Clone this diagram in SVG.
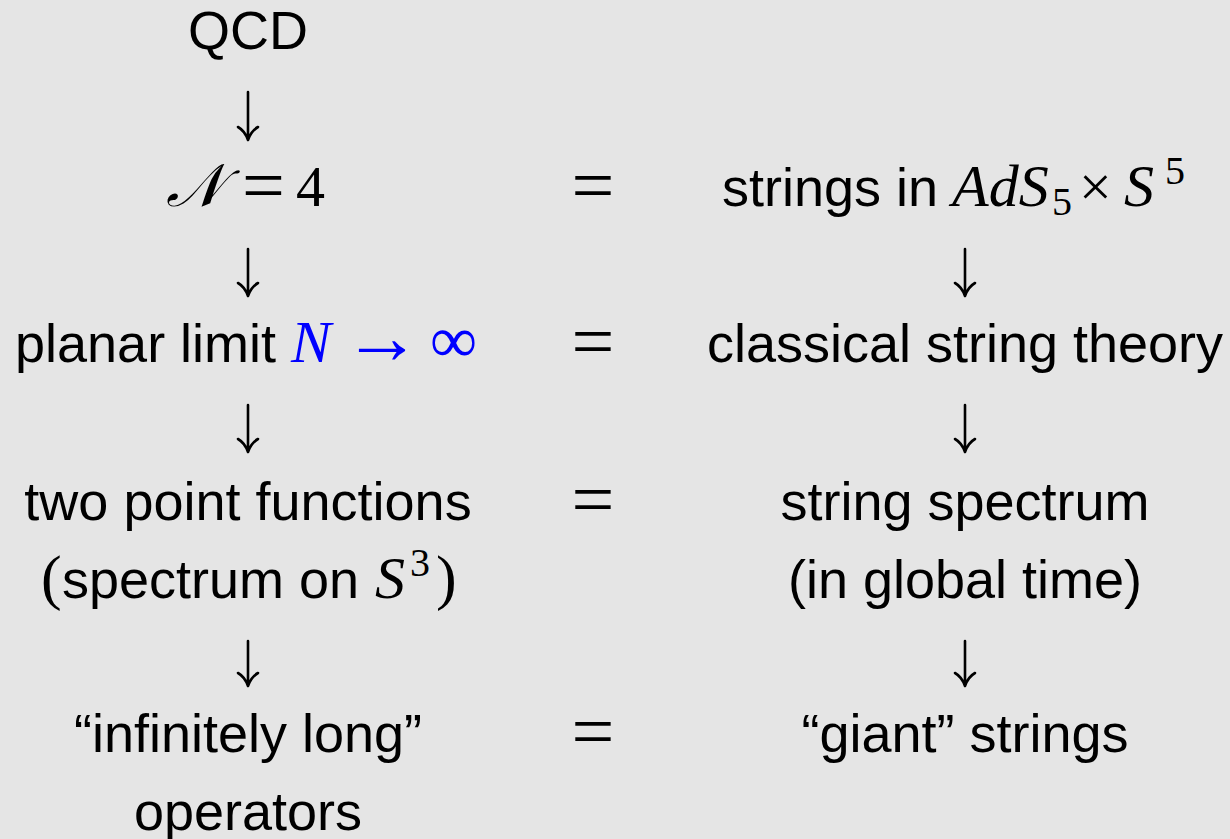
<svg xmlns="http://www.w3.org/2000/svg" width="1230" height="839" viewBox="0 0 1230 839">
<style>
.t{font-family:"Liberation Sans",Arial,sans-serif;font-size:54px;fill:#000}
.m{font-family:"Liberation Serif","Times New Roman",serif;font-style:italic;font-size:60px}
.r{font-family:"Liberation Serif","Times New Roman",serif;font-style:normal}
.up{font-family:"Liberation Serif","Times New Roman",serif;font-style:normal}
.eq{font-family:"Liberation Serif","Times New Roman",serif;font-size:76px;fill:#000}
.arr{fill:none;stroke:#000;stroke-width:2.6;stroke-linecap:round;stroke-linejoin:round}
</style>
<rect width="1230" height="839" fill="#e5e5e5"/>
<g id="connectors">
  <path class="arr" d="M248,92 V139 M238,127 Q245,131 248,140 Q251,131 258,127"/>
  <path class="arr" d="M248,249 V295 M238,283 Q245,287 248,296 Q251,287 258,283"/>
  <path class="arr" d="M248,405 V451 M238,439 Q245,443 248,452 Q251,443 258,439"/>
  <path class="arr" d="M248,641 V685 M238,673 Q245,677 248,686 Q251,677 258,673"/>
  <path class="arr" d="M965,249 V295 M955,283 Q962,287 965,296 Q968,287 975,283"/>
  <path class="arr" d="M965,405 V451 M955,439 Q962,443 965,452 Q968,443 975,439"/>
  <path class="arr" d="M965,641 V685 M955,673 Q962,677 965,686 Q968,677 975,673"/>
</g>
<g id="n-qcd"><text class="t" x="248" y="49" text-anchor="middle">QCD</text></g>
<g id="n-n4"><text class="t" y="206"><tspan class="m" x="166" font-size="58">𝒩</tspan><tspan class="eq" x="242" dy="5">=</tspan><tspan class="up" x="296" dy="-5" font-size="58">4</tspan></text></g>
<g id="n-ads"><text class="t" y="206"><tspan x="722">strings in </tspan><tspan class="m" x="952">AdS</tspan><tspan class="up" x="1052" dy="9" font-size="40">5</tspan><tspan class="r" x="1079" dy="-9" font-size="58">×</tspan><tspan class="m" x="1124">S</tspan><tspan class="up" x="1165" dy="-22" font-size="40">5</tspan></text></g>
<g id="n-planar"><text class="t" y="362"><tspan x="15">planar limit </tspan><tspan class="m" x="291" fill="#0000ff">N</tspan><tspan class="r" x="343" dy="1" fill="#0000ff" font-size="78">→</tspan><tspan class="r" x="430" dy="-1" fill="#0000ff" font-size="66">∞</tspan></text></g>
<g id="n-classical"><text class="t" x="965" y="362" text-anchor="middle">classical string theory</text></g>
<g id="n-twopoint"><text class="t" x="248" y="520" text-anchor="middle">two point functions</text>
<text class="t" y="598"><tspan class="up" x="41" font-size="62">(</tspan><tspan x="62">spectrum on </tspan><tspan class="m" x="375">S</tspan><tspan class="up" x="410" dy="-22" font-size="40">3</tspan><tspan class="up" x="436" dy="22" font-size="62">)</tspan></text></g>
<g id="n-spectrum"><text class="t" x="965" y="520" text-anchor="middle">string spectrum</text><text class="t" x="965" y="598" text-anchor="middle">(in global time)</text></g>
<g id="n-infinite"><text class="t" x="248" y="752" text-anchor="middle">“infinitely long”</text><text class="t" x="248" y="830" text-anchor="middle">operators</text></g>
<g id="n-giant"><text class="t" x="965" y="752" text-anchor="middle">“giant” strings</text></g>
<g id="equals">
  <text class="eq" x="593" y="211" text-anchor="middle">=</text>
  <text class="eq" x="593" y="367" text-anchor="middle">=</text>
  <text class="eq" x="593" y="525" text-anchor="middle">=</text>
  <text class="eq" x="593" y="757" text-anchor="middle">=</text>
</g>
</svg>
